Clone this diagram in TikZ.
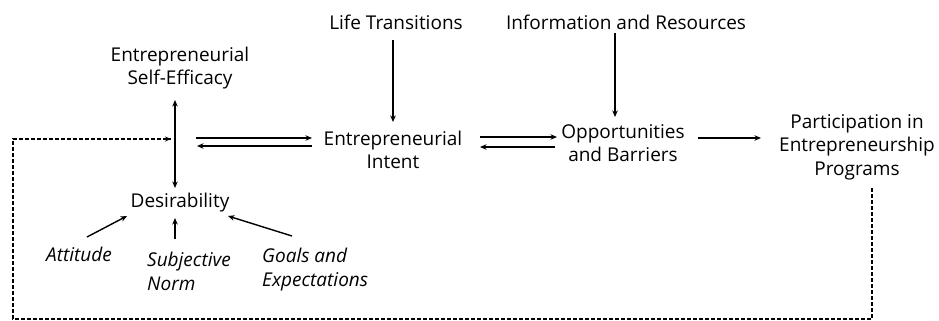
\documentclass[tikz,border=0pt]{standalone}
\usepackage{fontspec}
\setmainfont{Open Sans}
\usetikzlibrary{arrows.meta}
\begin{document}
\begin{tikzpicture}[x=1pt,y=-1pt,
  lbl/.style={font=\fontsize{19}{23.5}\selectfont, align=center, inner sep=0pt},
  ilbl/.style={font=\fontsize{19}{24}\selectfont\itshape, inner sep=0pt},
  link/.style={line width=1.4pt, -{Stealth[length=6.5pt,width=5.5pt]}},
  twoway/.style={line width=1.4pt, {Stealth[length=6.5pt,width=5.5pt]}-{Stealth[length=6.5pt,width=5.5pt]}},
  feedback/.style={line width=1.2pt, dash pattern=on 4pt off 2pt}
]
\useasboundingbox (0,0) rectangle (939,321);

% concepts
\node[lbl] (se)  at (180,68)  {Entrepreneurial\\Self-Efficacy};
\node[lbl] (lt)  at (396,22)  {Life Transitions};
\node[lbl] (ir)  at (626,22)  {Information and Resources};
\node[lbl] (ei)  at (393,150) {Entrepreneurial\\Intent};
\node[lbl] (ob)  at (623,143) {Opportunities\\and Barriers};
\node[lbl] (pp)  at (857,147) {Participation in\\Entrepreneurship\\Programs};
\node[lbl] (des) at (180,203) {Desirability};

% antecedents of desirability
\node[ilbl] (att) at (79,254) {Attitude};
\node[ilbl, align=left] (sn) at (189,271) {Subjective\\Norm};
\node[ilbl, align=left, anchor=west] (ge) at (262,270) {Goals and\\Expectations};

% connector end points
\coordinate (seDes1) at (175,100);
\coordinate (seDes2) at (175,188);
\coordinate (hub)    at (171,139);
\coordinate (eiL1)   at (196,138);
\coordinate (eiL2)   at (312,138);
\coordinate (eiL3)   at (312,146);
\coordinate (eiL4)   at (197,146);
\coordinate (obL1)   at (480,137);
\coordinate (obL2)   at (557,137);
\coordinate (obL3)   at (555,147);
\coordinate (obL4)   at (480,147);
\coordinate (ppL1)   at (698,138);
\coordinate (ppL2)   at (761,138);
\coordinate (ltA)    at (393,40);
\coordinate (ltB)    at (393,122);
\coordinate (irA)    at (615,33);
\coordinate (irB)    at (615,117);
\coordinate (attA)   at (87,237);
\coordinate (attB)   at (127,216);
\coordinate (snA)    at (175,239);
\coordinate (snB)    at (175,218);
\coordinate (geA)    at (292,236);
\coordinate (geB)    at (228,216);
\coordinate (fb1)    at (872,188);
\coordinate (fb2)    at (872,319);
\coordinate (fb3)    at (13,319);
\coordinate (fb4)    at (13,139);

% links
\draw[twoway] (seDes1) -- (seDes2);
\draw[link] (eiL1) -- (eiL2);
\draw[link] (eiL3) -- (eiL4);
\draw[link] (obL1) -- (obL2);
\draw[link] (obL3) -- (obL4);
\draw[link] (ppL1) -- (ppL2);
\draw[link] (ltA) -- (ltB);
\draw[link] (irA) -- (irB);
\draw[link] (attA) -- (attB);
\draw[link] (snA) -- (snB);
\draw[link] (geA) -- (geB);

% feedback loop from participation
\draw[feedback] (fb1) -- (fb2) -- (fb3) -- (fb4) -- (hub);
\draw[line width=1.2pt, -{Stealth[length=6pt,width=5pt]}] ([xshift=-1pt]hub) -- (hub);
\end{tikzpicture}
\end{document}
